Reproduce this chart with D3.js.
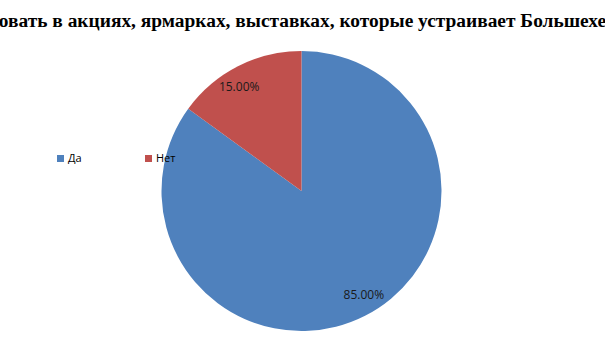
<!DOCTYPE html>
<html>
<head>
<meta charset="utf-8">
<script src="https://cdn.jsdelivr.net/npm/d3@7"></script>
<style>
  body { margin: 0; background: #fff; }
  svg { display: block; }
</style>
</head>
<body>
<div id="chart"></div>
<script>
// data
var categories = ["Да", "Нет"];
var values = [85, 15];
var colors = ["#4F81BD", "#C0504D"];
var title = "Готовы ли вы участвовать в акциях, ярмарках, выставках, которые устраивает Большехехцирский заповедник?";
var titlePrefix = "Готовы ли вы участв";

var width = 605, height = 340;
var cx = 301.5, cy = 191, radius = 140;

var svg = d3.select("#chart").append("svg")
    .attr("width", width)
    .attr("height", height);

// title (wider than the chart, cut off on both sides)
var tmp = svg.append("text")
    .style("font-family", "'Liberation Serif', 'Times New Roman', serif")
    .style("font-weight", "bold")
    .style("font-size", "19.4px")
    .text(titlePrefix);
var prefixW = tmp.node().getComputedTextLength();
tmp.remove();

svg.append("text")
    .attr("x", -prefixW - 1)
    .attr("y", 27)
    .style("font-family", "'Liberation Serif', 'Times New Roman', serif")
    .style("font-weight", "bold")
    .style("font-size", "19.4px")
    .style("fill", "#000")
    .text(title);

// pie: "Да" clockwise from 12 o'clock, "Нет" fills the rest
var pie = d3.pie().sort(null).value(function(d) { return d; });
var arcs = pie(values);
var arc = d3.arc().innerRadius(0).outerRadius(radius);
var fmt = d3.format(".2f");
var total = d3.sum(values);

var g = svg.append("g")
    .attr("transform", "translate(" + cx + "," + cy + ")");

g.selectAll("path")
    .data(arcs)
  .enter().append("path")
    .attr("d", arc)
    .attr("fill", function(d, i) { return colors[i]; });

// labels sit a little counterclockwise of the slice middle
g.selectAll(".lbl")
    .data(arcs)
  .enter().append("text")
    .attr("class", "lbl")
    .attr("transform", function(d) {
      var a = (d.startAngle + d.endAngle) / 2 - 0.07;
      return "translate(" + (121 * Math.sin(a)) + "," + (-121 * Math.cos(a)) + ")";
    })
    .attr("dy", "0.35em")
    .style("text-anchor", "middle")
    .style("font-family", "'Open Sans', 'Liberation Sans', sans-serif")
    .style("font-size", "12px")
    .style("fill", "#1a1a1a")
    .text(function(d) { return fmt(d.value / total * 100) + "%"; });

// legend
var legendX = d3.scaleOrdinal().domain(categories).range([57, 145]);

var leg = svg.selectAll(".leg")
    .data(categories)
  .enter().append("g")
    .attr("class", "leg")
    .attr("transform", function(d) { return "translate(" + legendX(d) + ",155)"; });

leg.append("rect")
    .attr("width", 7)
    .attr("height", 7)
    .attr("fill", function(d, i) { return colors[i]; });

leg.append("text")
    .attr("x", 11)
    .attr("y", 7)
    .style("font-family", "'Open Sans', 'Liberation Sans', sans-serif")
    .style("font-size", "11px")
    .style("fill", "#000")
    .text(function(d) { return d; });
</script>
</body>
</html>
